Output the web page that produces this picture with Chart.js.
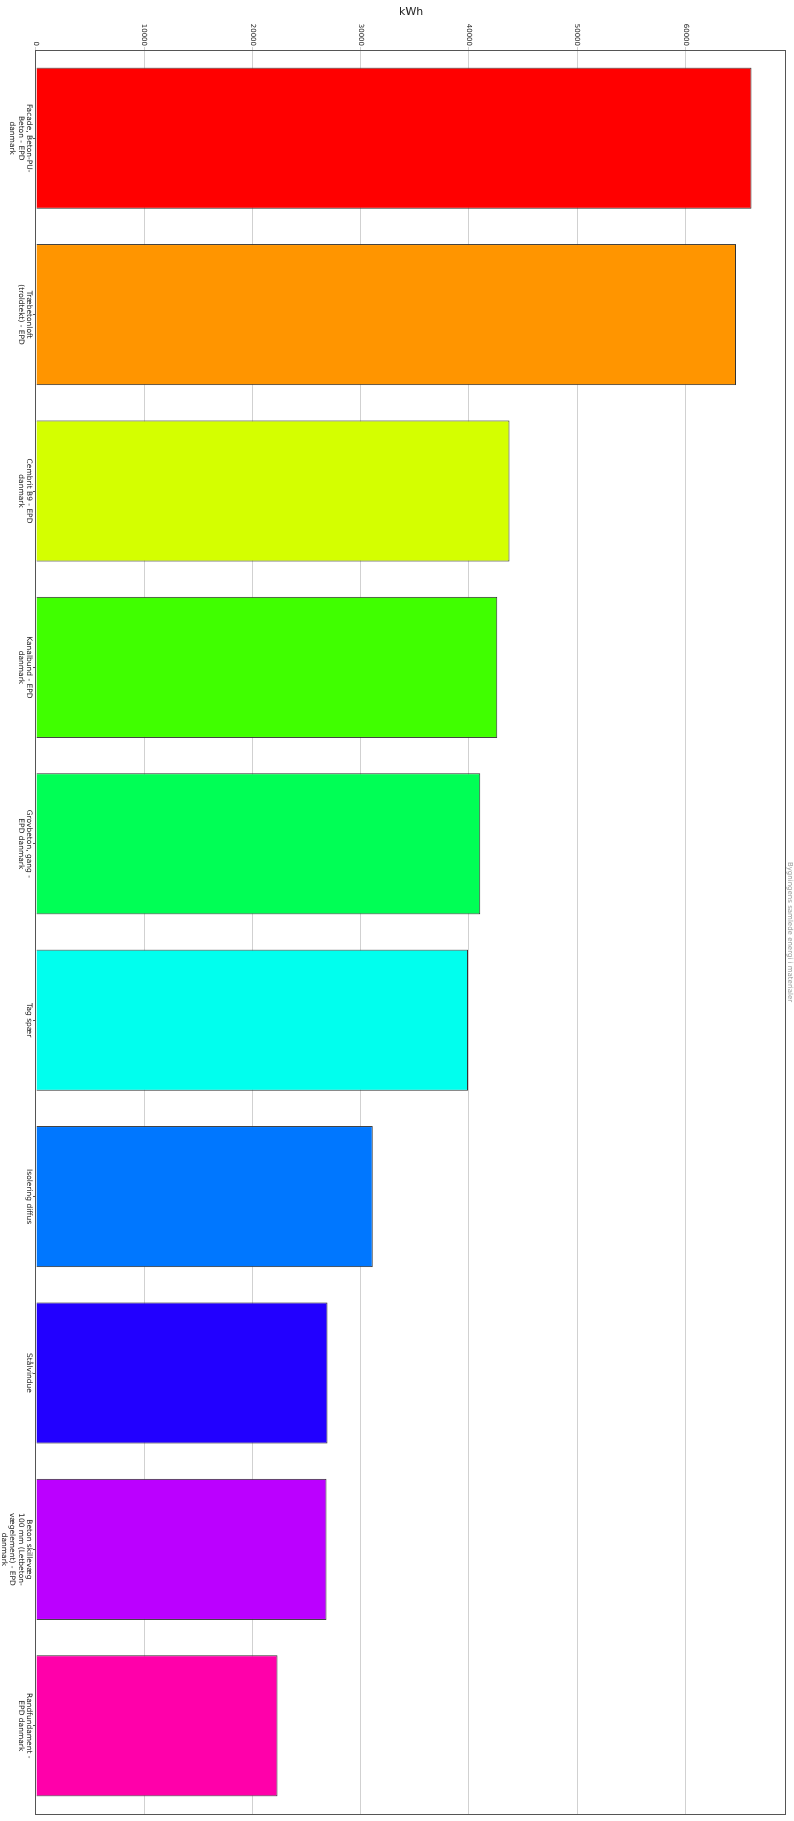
<!DOCTYPE html>
<html>
<head>
<meta charset="utf-8">
<script src="https://cdn.jsdelivr.net/npm/chart.js@4"></script>
<style>
html, body { margin: 0; padding: 0; background: #fff; overflow: hidden; }
/* le graphique est dessiné en colonnes puis tourné d'un quart de tour */
#wrap { position: absolute; left: 0; top: 0; width: 1821px; height: 794px;
        transform-origin: 0 0; transform: translateX(794px) rotate(90deg); }
</style>
</head>
<body>
<div id="wrap"><canvas id="barCanvas" width="1821" height="794"></canvas></div>
<script>
// données du graphique
const categories = [
    ["Facade, Beton-PU-", "Beton - EPD", "danmark"],
    ["Træbetonloft", "(troldtekt) - EPD"],
    ["Cembrit B9 - EPD", "danmark"],
    ["Kanalbund - EPD", "danmark"],
    ["Grovbeton, gang -", "EPD danmark"],
    "Tag spær",
    "Isolering diffus",
    "Stålvindue",
    ["Beton skillevæg", "100 mm (Letbeton-", "vægelement) - EPD", "danmark"],
    ["Randfundament -", "EPD danmark"]
]
const values = [66120, 64680, 43750, 42620, 41050, 39910, 31110, 26930, 26840, 22310]
const barColors = [
    "#ff0000", "#ff9500", "#d4ff00", "#40ff00", "#00ff55",
    "#00ffee", "#0077ff", "#2200ff", "#bb00ff", "#ff00aa"]
const valueTicks = [0, 10000, 20000, 30000, 40000, 50000, 60000]
const axisMax = 69330
const axisTitle = "kWh"
const chartTitle = "Bygningens samlede energi i materialer"

// cadre autour de la zone du graphique
const frame = {
    id: 'frame',
    afterDraw(chart) {
        const ctx = chart.ctx
        const a = chart.chartArea
        ctx.save()
        ctx.strokeStyle = '#555'
        ctx.lineWidth = 1
        ctx.strokeRect(Math.round(a.left) + 0.5, Math.round(a.top) + 0.5,
            Math.round(a.right - a.left), Math.round(a.bottom - a.top))
        ctx.restore()
    }
}

function buildChart() {
    const barCanvas = document.getElementById('barCanvas')
    new Chart(barCanvas, {
        type: "bar",
        data: {
            labels: categories,
            datasets: [{
                data: values,
                backgroundColor: barColors,
                borderColor: "#333",
                borderWidth: 1,
                barPercentage: 0.8,
                categoryPercentage: 1
            }]
        },
        options: {
            responsive: false,
            animation: false,
            layout: { padding: { top: 0, right: 7, bottom: 0, left: 0 } },
            plugins: {
                legend: { display: false },
                tooltip: { enabled: false },
                title: {
                    display: true,
                    fullSize: false,
                    text: chartTitle,
                    color: "#999",
                    font: { family: "DejaVu Sans", size: 7, weight: "normal", lineHeight: 1.1 },
                    padding: { top: 0, bottom: 0 }
                }
            },
            scales: {
                x: {
                    grid: { drawOnChartArea: false, offset: false, tickLength: 3, color: "#555" },
                    border: { display: false },
                    ticks: {
                        autoSkip: false,
                        maxRotation: 0,
                        minRotation: 0,
                        padding: 0,
                        color: "#222",
                        font: { family: "DejaVu Sans", size: 7.5, lineHeight: 1.1 }
                    },
                    afterFit(scale) { scale.height = 36 }
                },
                y: {
                    min: 0,
                    max: axisMax,
                    z: 1,
                    afterBuildTicks(scale) {
                        scale.ticks = valueTicks.map(v => ({ value: v }))
                    },
                    grid: { color: "rgba(0,0,0,0.18)", tickLength: 3 },
                    border: { display: false },
                    ticks: {
                        padding: 1,
                        color: "#222",
                        font: { family: "DejaVu Sans", size: 7 },
                        callback: v => String(v)
                    },
                    title: {
                        display: true,
                        text: axisTitle,
                        color: "#222",
                        font: { family: "DejaVu Sans", size: 11 },
                        padding: { top: 6, bottom: 0 }
                    },
                    afterFit(scale) { scale.width = 50 }
                }
            }
        },
        plugins: [frame]
    })
}

buildChart()
</script>
</body>
</html>
